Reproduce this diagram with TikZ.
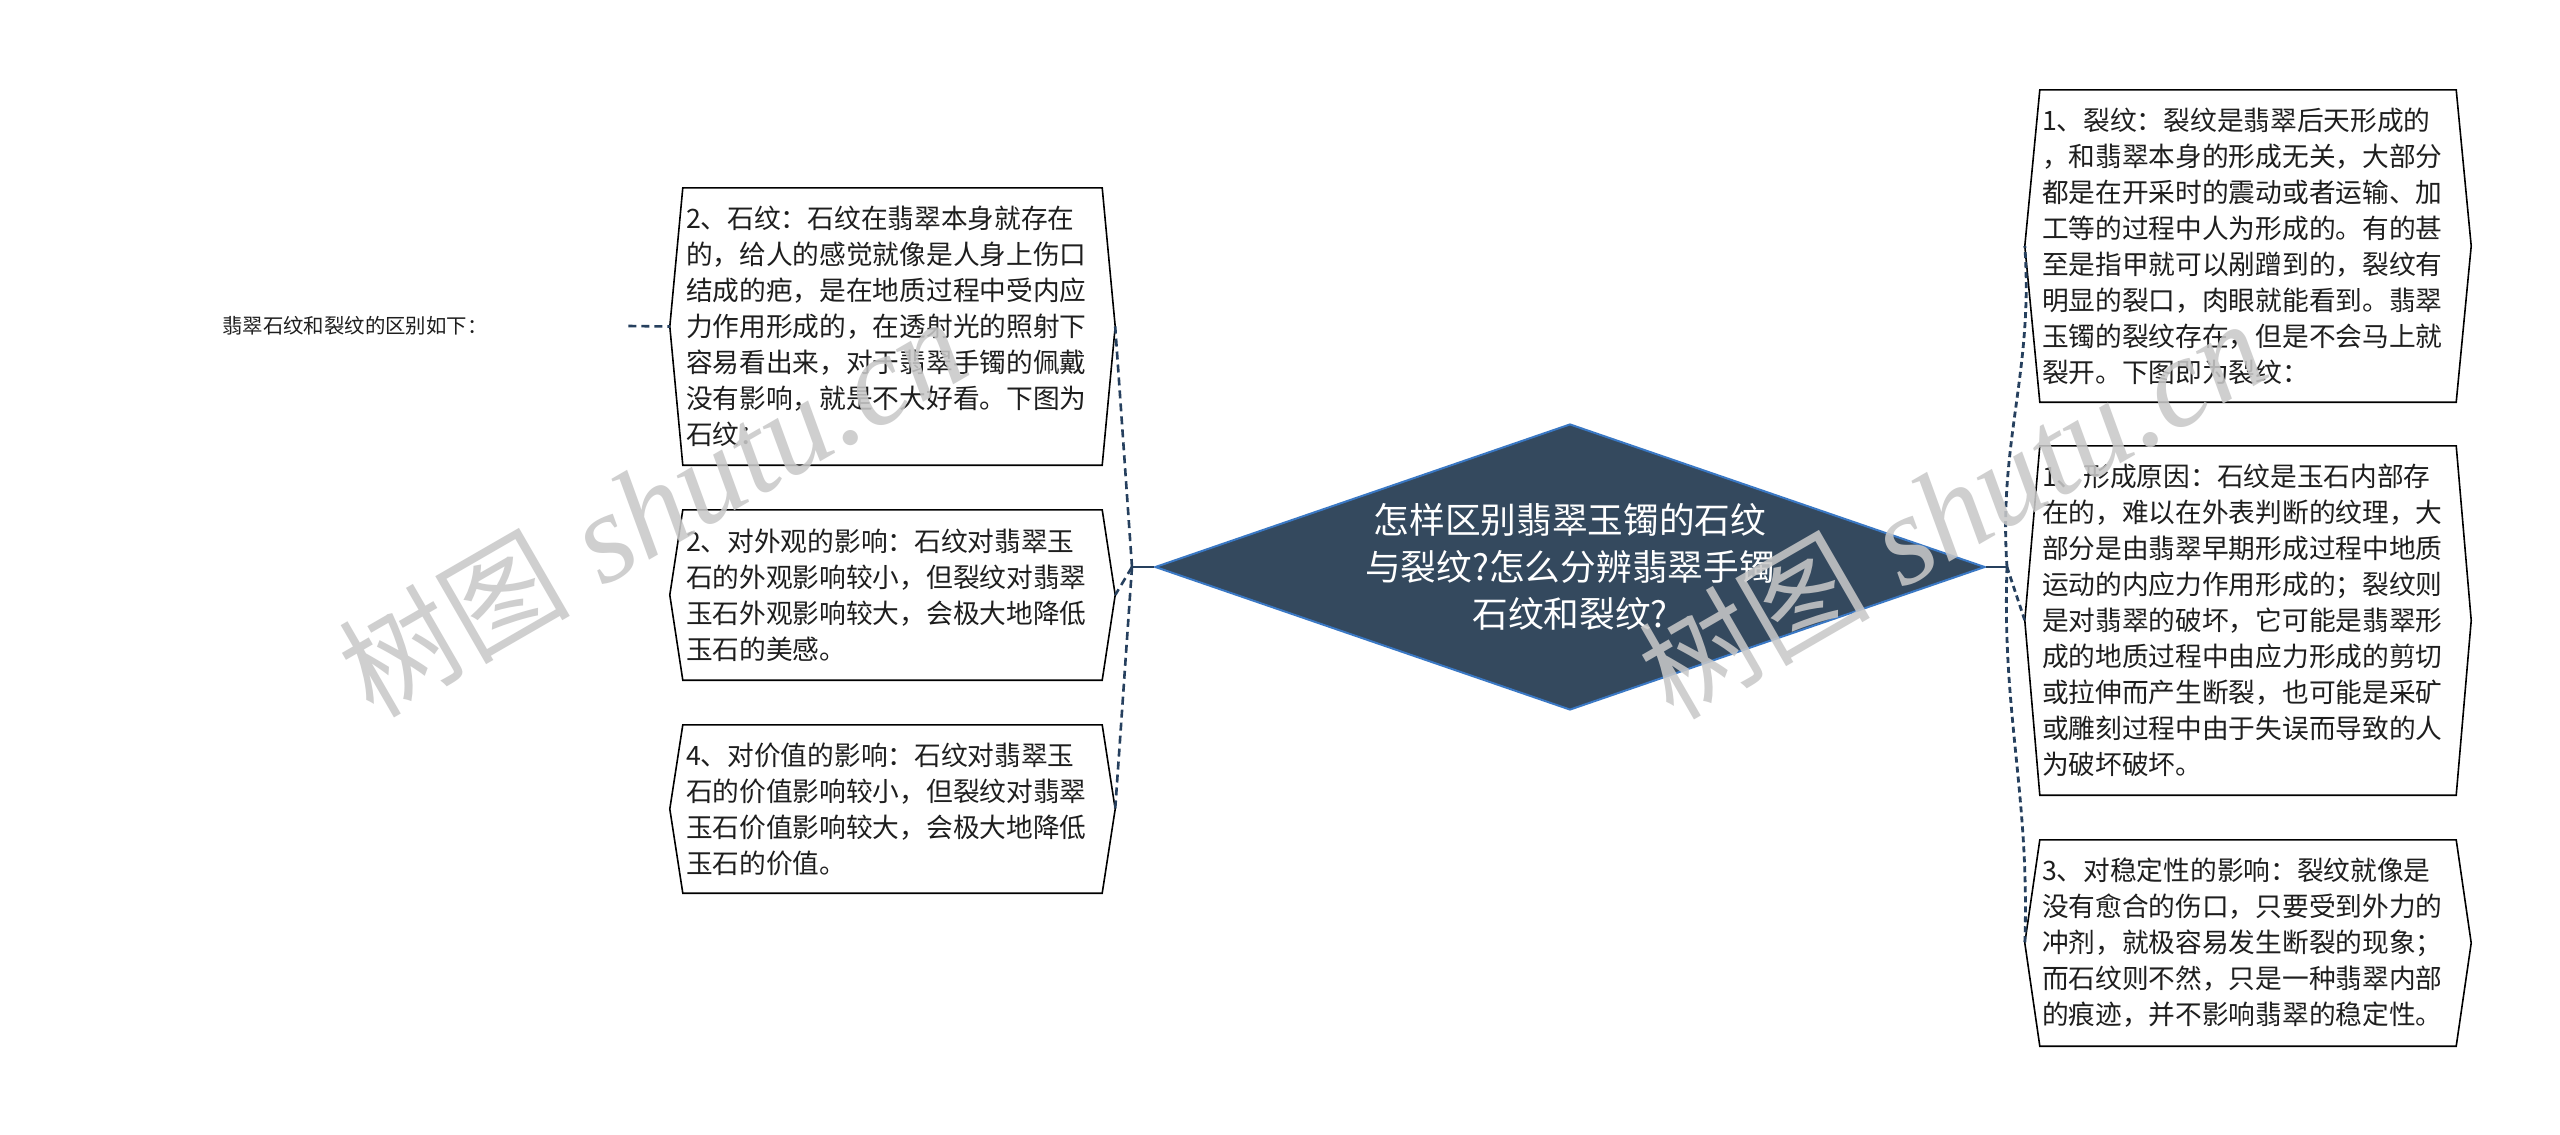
\documentclass[tikz,border=0pt]{standalone}
\usepackage{fontspec}
\setmainfont{Noto Sans CJK SC}
\newfontfamily\cjk{Noto Sans CJK SC}
\newfontfamily\wmfont{Liberation Serif}
\usetikzlibrary{calc,shapes.geometric}
\definecolor{diafill}{HTML}{34495E}
\definecolor{diaedge}{HTML}{3A78C4}
\definecolor{linec}{HTML}{26405E}
\definecolor{txt}{HTML}{1E1E1E}
\definecolor{wm}{RGB}{200,200,200}
\tikzset{
  box/.style={rectangle, draw=none, inner xsep=3pt, inner ysep=0pt, align=left,
    text=txt, font=\cjk\fontsize{26.7}{36}\selectfont, anchor=center},
  boxline/.style={draw=black, line width=1.6pt, line join=miter},
  trunk/.style={draw=linec, line width=2.6pt},
  branchL/.style={draw=linec, line width=2.6pt, dash pattern=on 8pt off 5pt},
  branchR/.style={draw=linec, line width=2.8pt, dash pattern=on 6pt off 4pt},
  wmstyle/.style={text=wm, opacity=0.87, inner sep=0pt},
}
\newcommand\hexbox[2]{\draw[boxline] (#1.north west) -- (#1.north east) -- ($(#1.east)+(#2,0)$) -- (#1.south east) -- (#1.south west) -- ($(#1.west)+(-#2,0)$) -- cycle;}
\newcommand\wmtext{{\cjk\fontsize{116}{116}\selectfont 树图}{\wmfont\itshape\fontsize{128}{128}\selectfont\ shutu.cn}}
\begin{document}
\begin{tikzpicture}[x=1pt,y=-1pt]
\useasboundingbox[fill=white] (0,0) rectangle (2560,1135);

% central diamond
\node[diamond, aspect=2.9, minimum width=830pt, minimum height=286pt, inner sep=0pt,
  fill=diafill, draw=diaedge, line width=2pt, text=white, align=center,
  font=\cjk\fontsize{35.7}{47}\selectfont] (dia) at (1570,567)
  {怎样区别翡翠玉镯的石纹\\与裂纹?怎么分辨翡翠手镯\\石纹和裂纹?};

% intro text
\node[anchor=west, inner sep=0pt, text width=406pt, align=left, text=txt,
  font=\cjk\fontsize{20.4}{24}\selectfont] (intro) at (222,326) {翡翠石纹和裂纹的区别如下：};

% left boxes
\node[box, text width=413pt, minimum width=419pt, minimum height=277pt] (l1) at (892.5,326.5)
  {2、石纹：石纹在翡翠本身就存在\\的，给人的感觉就像是人身上伤口\\结成的疤，是在地质过程中受内应\\力作用形成的，在透射光的照射下\\容易看出来，对于翡翠手镯的佩戴\\没有影响，就是不大好看。下图为\\石纹：};
\node[box, text width=413pt, minimum width=419pt, minimum height=170pt] (l2) at (892.5,595)
  {2、对外观的影响：石纹对翡翠玉\\石的外观影响较小，但裂纹对翡翠\\玉石外观影响较大，会极大地降低\\玉石的美感。};
\node[box, text width=413pt, minimum width=419pt, minimum height=168pt] (l3) at (892.5,809)
  {4、对价值的影响：石纹对翡翠玉\\石的价值影响较小，但裂纹对翡翠\\玉石价值影响较大，会极大地降低\\玉石的价值。};

% right boxes
\node[box, inner xsep=2pt, text width=412pt, minimum width=416pt, minimum height=312pt] (r1) at (2248,246)
  {1、裂纹：裂纹是翡翠后天形成的\\，和翡翠本身的形成无关，大部分\\都是在开采时的震动或者运输、加\\工等的过程中人为形成的。有的甚\\至是指甲就可以剐蹭到的，裂纹有\\明显的裂口，肉眼就能看到。翡翠\\玉镯的裂纹存在，但是不会马上就\\裂开。下图即为裂纹：};
\node[box, inner xsep=2pt, text width=412pt, minimum width=416pt, minimum height=349pt] (r2) at (2248,620.5)
  {1、形成原因：石纹是玉石内部存\\在的，难以在外表判断的纹理，大\\部分是由翡翠早期形成过程中地质\\运动的内应力作用形成的；裂纹则\\是对翡翠的破坏，它可能是翡翠形\\成的地质过程中由应力形成的剪切\\或拉伸而产生断裂，也可能是采矿\\或雕刻过程中由于失误而导致的人\\为破坏破坏。};
\node[box, inner xsep=2pt, text width=412pt, minimum width=416pt, minimum height=206pt] (r3) at (2248,943)
  {3、对稳定性的影响：裂纹就像是\\没有愈合的伤口，只要受到外力的\\冲剂，就极容易发生断裂的现象；\\而石纹则不然，只是一种翡翠内部\\的痕迹，并不影响翡翠的稳定性。};

\hexbox{l1}{13}
\hexbox{l2}{13}
\hexbox{l3}{13}
\hexbox{r1}{15}
\hexbox{r2}{15}
\hexbox{r3}{15}

% tips
\coordinate (l1t) at ($(l1.east)+(13,0)$);
\coordinate (l2t) at ($(l2.east)+(13,0)$);
\coordinate (l3t) at ($(l3.east)+(13,0)$);
\coordinate (l1w) at ($(l1.west)+(-13,0)$);
\coordinate (r1t) at ($(r1.west)+(-15,0)$);
\coordinate (r2t) at ($(r2.west)+(-15,0)$);
\coordinate (r3t) at ($(r3.west)+(-15,0)$);

% junctions
\coordinate (jl) at (1132,567);
\coordinate (jr) at (2007,567);

\draw[trunk] (dia.west) -- (jl);
\draw[trunk] (dia.east) -- (jr);
\draw[branchL] (jl) to[out=94,in=-86] (l1t);
\draw[branchL] (jl) -- (l2t);
\draw[branchL] (jl) to[out=-94,in=86] (l3t);
\draw[branchR] (jr) to[out=94,in=-86] (r1t);
\draw[branchR] (jr) -- (r2t);
\draw[branchR] (jr) to[out=-92,in=88] (r3t);
\draw[branchL] (intro.east) -- (l1w);

% watermarks
\node[wmstyle, rotate=30] (wm1) at (652,508) {\wmtext};
\node[wmstyle, rotate=30] (wm2) at (1952,510) {\wmtext};
\end{tikzpicture}
\end{document}
